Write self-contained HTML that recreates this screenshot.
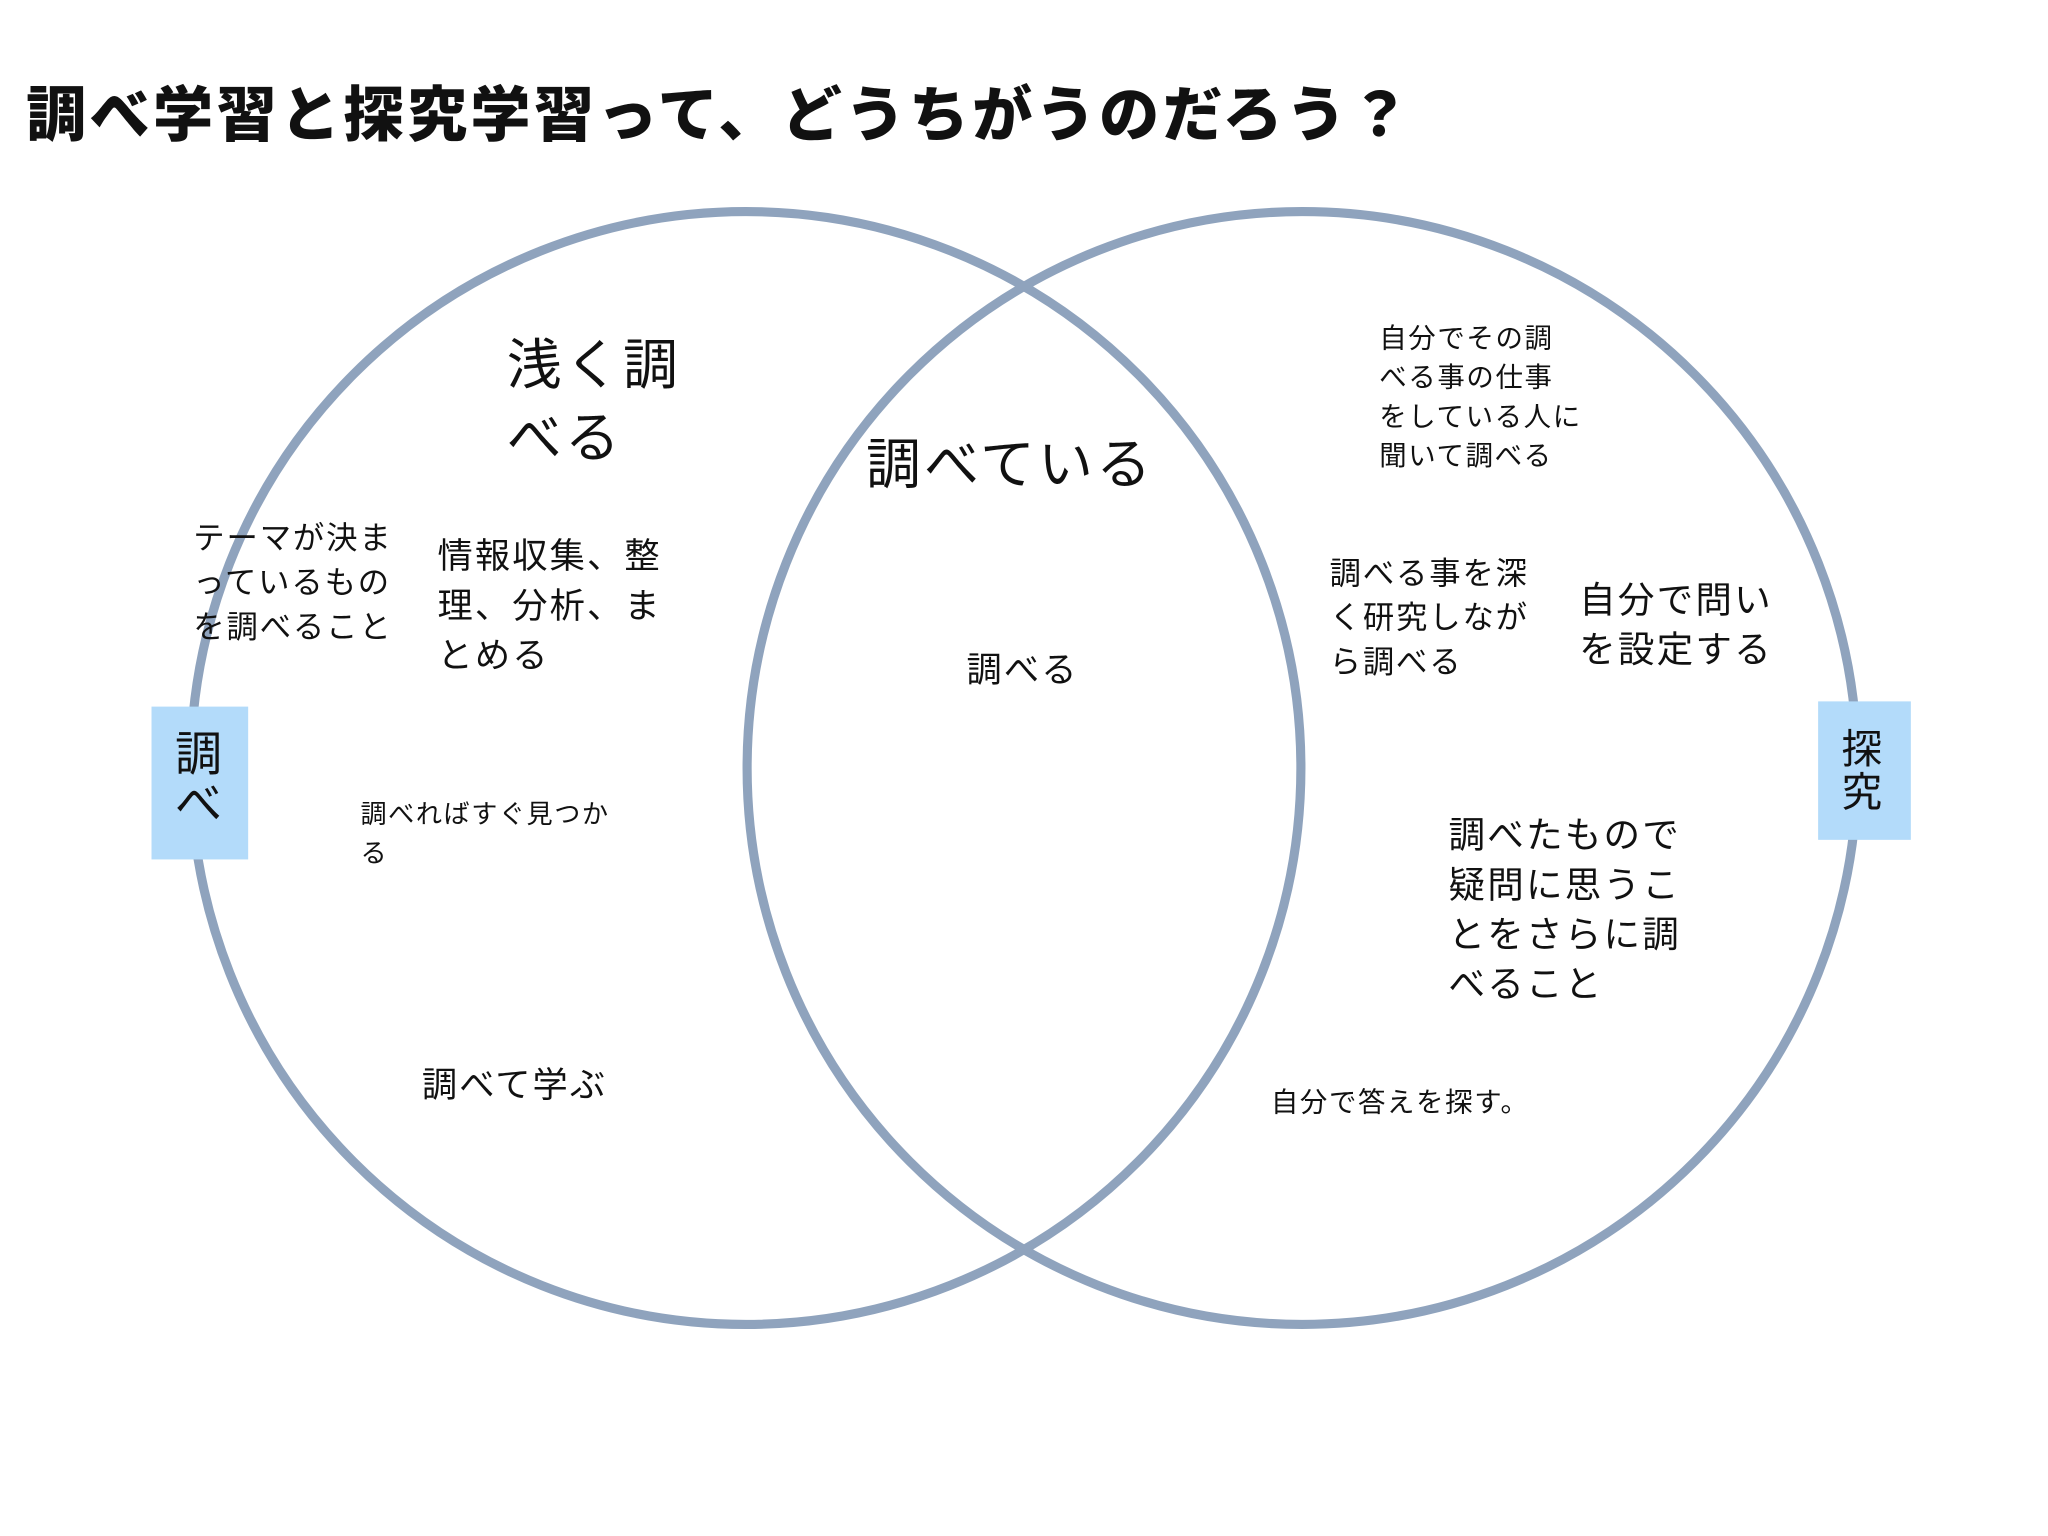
<!DOCTYPE html>
<html><head><meta charset="utf-8"><style>
html,body{margin:0;padding:0;background:#fff;}
svg{display:block;}
text{font-family:"Liberation Sans","Noto Sans CJK JP",sans-serif;fill:#111;letter-spacing:0.06em;}
</style></head><body>
<svg width="2048" height="1536" viewBox="0 0 1568 1176" xmlns="http://www.w3.org/2000/svg">
<rect width="1568" height="1176" fill="#fff"/>
<text x="20" y="104" font-size="46" font-weight="900" style="letter-spacing:2.6px">調べ学習と探究学習って、どうちがうのだろう？</text>
<ellipse cx="571" cy="588" rx="425" ry="426" fill="none" stroke="#8fa3bd" stroke-width="7"/>
<ellipse cx="997" cy="588" rx="425" ry="426" fill="none" stroke="#8fa3bd" stroke-width="7"/>
<rect x="116" y="541" width="74" height="117" fill="#b3dbfa"/>
<rect x="1392" y="537" width="71" height="106" fill="#b3dbfa"/>
<text x="134" y="590" font-size="36">調</text>
<text x="134" y="628" font-size="36">べ</text>
<text x="1410" y="584" font-size="31">探</text>
<text x="1410" y="617" font-size="31">究</text>
<g font-size="42"><text x="388" y="294">浅く調</text><text x="388" y="350">べる</text></g>
<text x="663" y="370" font-size="42">調べている</text>
<g font-size="24"><text x="148" y="420">テーマが決ま</text><text x="148" y="454">っているもの</text><text x="148" y="488">を調べること</text></g>
<g font-size="27"><text x="335" y="435">情報収集、整</text><text x="335" y="473">理、分析、ま</text><text x="335" y="511">とめる</text></g>
<text x="740" y="522" font-size="27">調べる</text>
<g font-size="20"><text x="276" y="630">調べればすぐ見つか</text><text x="276" y="660">る</text></g>
<text x="323" y="840" font-size="27">調べて学ぶ</text>
<g font-size="21"><text x="1056" y="266">自分でその調</text><text x="1056" y="296">べる事の仕事</text><text x="1056" y="326">をしている人に</text><text x="1056" y="356">聞いて調べる</text></g>
<g font-size="24"><text x="1018" y="447">調べる事を深</text><text x="1018" y="481">く研究しなが</text><text x="1018" y="515">ら調べる</text></g>
<g font-size="28"><text x="1209" y="469">自分で問い</text><text x="1209" y="507">を設定する</text></g>
<g font-size="28"><text x="1109" y="649">調べたもので</text><text x="1109" y="687">疑問に思うこ</text><text x="1109" y="725">とをさらに調</text><text x="1109" y="763">べること</text></g>
<text x="973" y="851" font-size="21">自分で答えを探す。</text>
</svg>
</body></html>
